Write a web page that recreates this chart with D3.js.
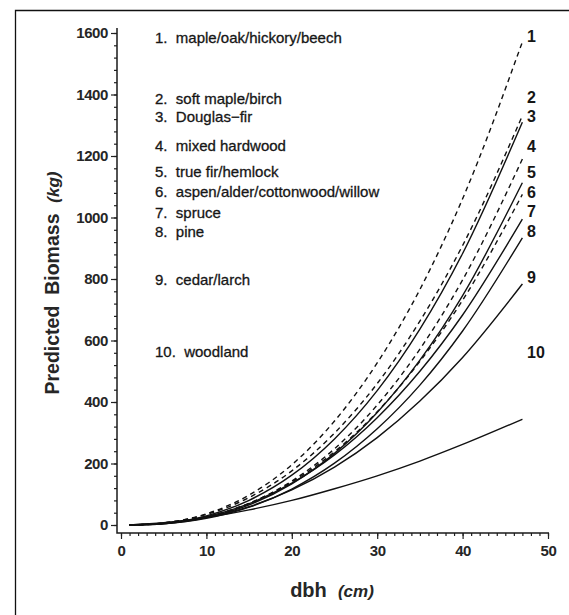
<!DOCTYPE html>
<html lang="en">
  <head>
    <meta charset="UTF-8" />
    <title>Predicted Biomass</title>
    <style type="text/css">
      body { margin: 0; background: #fff; }
      svg text { font-family: 'Liberation Sans', Arial, sans-serif; fill: #161616; }
    </style>
  </head>
  <body>
    <div class="chart"></div>
    <script src="https://cdn.jsdelivr.net/npm/d3@7"></script>
    <script type="text/javascript">
      // dbh (cm) where the curves were read
      var dbh = [1, 5, 10, 15, 20, 25, 30, 35, 40, 47]

      // species groups
      var groups = [
        'maple/oak/hickory/beech',
        'soft maple/birch',
        'Douglas\u2212fir',
        'mixed hardwood',
        'true fir/hemlock',
        'aspen/alder/cottonwood/willow',
        'spruce',
        'pine',
        'cedar/larch',
        'woodland'
      ]

      // predicted biomass (kg) per group, same order as dbh
      var mapleOak = [0.13, 6.7, 36.3, 97.4, 196, 338, 527, 766, 1061, 1571]
      var softMaple = [0.15, 6.6, 34.3, 89.4, 176, 299, 460, 663, 909, 1331]
      var douglasFir = [0.11, 5.5, 29.9, 80.4, 162, 280, 437, 637, 883, 1310]
      var mixedHardwood = [0.08, 4.6, 25.5, 69.8, 143, 248, 390, 572, 797, 1190]
      var trueFir = [0.08, 4.3, 23.9, 65.5, 134, 233, 366, 536, 746, 1113]
      var aspen = [0.11, 5.1, 26.7, 70.4, 140, 238, 368, 532, 731, 1075]
      var spruce = [0.13, 5.3, 26.9, 69.3, 136, 228, 349, 500, 683, 995]
      var pine = [0.08, 4.0, 21.6, 57.9, 117, 201, 313, 455, 631, 934]
      var cedarLarch = [0.13, 5.0, 23.8, 59.4, 114, 188, 284, 403, 545, 784]
      var woodland = [0.49, 7.6, 24.7, 49.2, 80, 118, 160, 208, 262, 344]

      var series = [mapleOak, softMaple, douglasFir, mixedHardwood, trueFir, aspen, spruce, pine, cedarLarch, woodland]

      var xTicks = [0, 10, 20, 30, 40, 50]
      var yTicks = [0, 200, 400, 600, 800, 1000, 1200, 1400, 1600]

      // which curves are dashed (index into series)
      var dashed = [0, 1, 3, 5]
      // text rows: legend on the left and numbers on the right (px)
      var legendY = [38, 99, 117, 146, 172, 192, 213, 232, 280, 352]
      var numberY = [36, 97, 116, 146, 172, 192, 211, 231, 277, 352]

      var width = 569
      var height = 615

      var svg = d3.select('.chart').append('svg').attr('width', width).attr('height', height)

      // frame (only top and left edges show)
      svg
        .append('path')
        .attr('d', 'M15.5,615 V10.5 H569')
        .attr('fill', 'none')
        .attr('stroke', '#111')
        .attr('stroke-width', 1.3)

      var xScale = d3.scaleLinear().domain([0, 50]).range([121, 548])
      var yScale = d3.scaleLinear().domain([0, 1600]).range([525, 33])

      var axisY0 = 533
      var axisX0 = 117

      // x axis: minor ticks every 1 cm, majors every 10
      svg
        .append('g')
        .attr('transform', `translate(0, ${axisY0})`)
        .call(d3.axisBottom(xScale).ticks(50).tickSize(3).tickFormat(''))
      svg
        .append('g')
        .attr('transform', `translate(0, ${axisY0})`)
        .call(d3.axisBottom(xScale).tickValues(xTicks).tickSize(6).tickPadding(6).tickFormat(d3.format('d')))

      // y axis: minor ticks every 40 kg
      svg
        .append('g')
        .attr('transform', `translate(${axisX0}, 0)`)
        .call(d3.axisLeft(yScale).tickValues(d3.range(0, 1601, 40)).tickSize(3).tickFormat(''))
      svg
        .append('g')
        .attr('transform', `translate(${axisX0}, 0)`)
        .call(d3.axisLeft(yScale).tickValues(yTicks).tickSize(6).tickPadding(3).tickFormat(d3.format('d')))

      svg.selectAll('.domain').remove()
      svg.selectAll('.tick line').attr('stroke', '#222').attr('stroke-width', 1.2)
      svg
        .selectAll('.tick text')
        .style('font-size', '15px')
        .style('font-weight', 'bold')
        .style('letter-spacing', '-0.4px')
        .style('fill', '#262626')
        .attr('font-family', null)

      // the two axis lines meet below the zero line
      svg
        .append('path')
        .attr('d', `M${axisX0},28 V${axisY0} H${xScale(50) + 1}`)
        .attr('fill', 'none')
        .attr('stroke', '#1a1a1a')
        .attr('stroke-width', 1.5)

      // curves
      var line = d3
        .line()
        .x((d, i) => xScale(dbh[i]))
        .y((d) => yScale(d))
        .curve(d3.curveMonotoneX)

      svg
        .append('g')
        .selectAll('path')
        .data(series)
        .enter()
        .append('path')
        .attr('d', line)
        .attr('fill', 'none')
        .attr('stroke', '#111')
        .attr('stroke-width', 1.4)
        .attr('stroke-dasharray', (d, i) => (dashed.includes(i) ? '5,4' : null))

      // legend text
      svg
        .append('g')
        .selectAll('text')
        .data(groups)
        .enter()
        .append('text')
        .attr('x', 155)
        .attr('y', (d, i) => legendY[i])
        .attr('dy', '0.35em')
        .style('font-size', '15px')
        .style('white-space', 'pre')
        .style('stroke', '#161616')
        .style('stroke-width', 0.3)
        .text((d, i) => `${i + 1}.  ${d}`)

      // curve numbers on the right
      svg
        .append('g')
        .selectAll('text')
        .data(groups)
        .enter()
        .append('text')
        .attr('x', 527)
        .attr('y', (d, i) => numberY[i])
        .attr('dy', '0.35em')
        .style('font-size', '16px')
        .style('font-weight', 'bold')
        .text((d, i) => i + 1)

      // axis titles
      var yTitle = svg
        .append('text')
        .attr('transform', 'translate(59, 283) rotate(-90)')
        .attr('text-anchor', 'middle')
        .style('font-size', '19.5px')
        .style('font-weight', 'bold')
        .style('fill', '#262626')
        .style('white-space', 'pre')
      yTitle.append('tspan').text('Predicted  Biomass  ')
      yTitle.append('tspan').style('font-style', 'italic').style('font-size', '17px').text('(kg)')

      var xTitle = svg
        .append('text')
        .attr('x', 332)
        .attr('y', 597)
        .attr('text-anchor', 'middle')
        .style('font-size', '20px')
        .style('font-weight', 'bold')
        .style('fill', '#262626')
        .style('white-space', 'pre')
      xTitle.append('tspan').text('dbh  ')
      xTitle.append('tspan').style('font-style', 'italic').style('font-size', '17px').text('(cm)')
    </script>
  </body>
</html>
